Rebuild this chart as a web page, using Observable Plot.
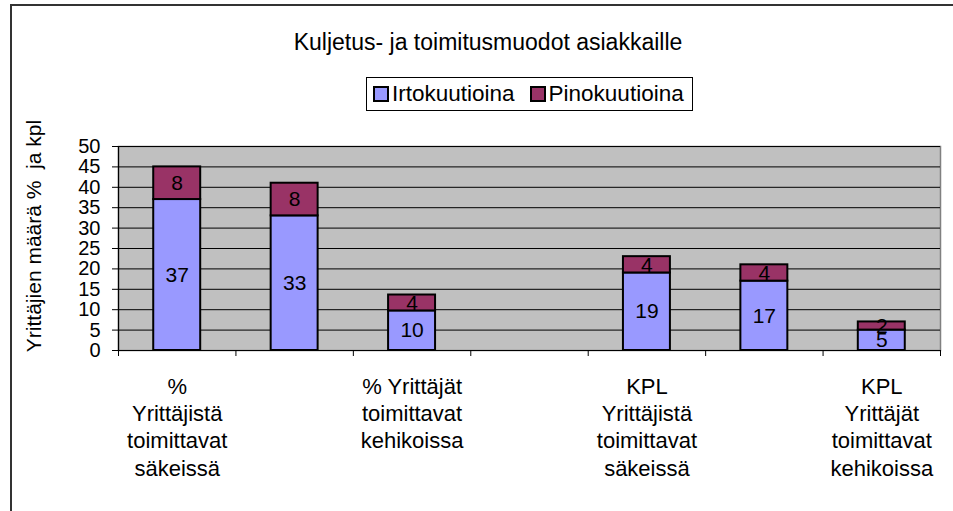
<!DOCTYPE html>
<html>
<head>
<meta charset="utf-8">
<script src="https://cdn.jsdelivr.net/npm/d3@7"></script>
<script src="https://cdn.jsdelivr.net/npm/@observablehq/plot@0.6"></script>
<style>
  html, body { margin: 0; padding: 0; background: #fff; }
  body { width: 953px; height: 511px; position: relative; overflow: hidden; font-family: "Liberation Sans", Arial, sans-serif; color: #000; }
  #frame { position: absolute; left: 10px; top: 4px; width: 980px; height: 540px; border-left: 2px solid #333; border-top: 2px solid #333; }
  #title { position: absolute; left: 0; width: 976px; top: 31px; text-align: center; font-size: 23px; line-height: 23px; }
  #legend { position: absolute; left: 366px; top: 77px; width: 327px; height: 34px; border: 1px solid #000; display: flex; align-items: center; justify-content: flex-start; padding-left: 6px; box-sizing: border-box; font-size: 22.5px; }
  #legend .sw { display: inline-block; width: 12px; height: 12px; border: 2px solid #000; margin-right: 3px; }
  #legend .item { display: flex; align-items: center; }
  #legend .item + .item { margin-left: 15px; }
  #ytitle { position: absolute; left: 34px; top: 236px; width: 320px; height: 24px; margin-left: -160px; margin-top: -12px; text-align: center; font-size: 21px; line-height: 24px; transform: rotate(-90deg); white-space: pre; }
  #chart { position: absolute; left: 0; top: 120px; }
</style>
</head>
<body>
<div id="frame"></div>
<div id="title"></div>
<div id="legend"></div>
<div id="ytitle"></div>
<div id="chart"></div>
<script>
// ---- data ----
const categories = ["c1", "c2", "c3", "c4", "c5", "c6", "c7"];
const categoryLabels = [
  "%\nYrittäjistä\ntoimittavat\nsäkeissä",
  "",
  "% Yrittäjät\ntoimittavat\nkehikoissa",
  "",
  "KPL\nYrittäjistä\ntoimittavat\nsäkeissä",
  "",
  "KPL\nYrittäjät\ntoimittavat\nkehikoissa"
];
const seriesNames = ["Irtokuutioina", "Pinokuutioina"];
const irtokuutioina = [37, 33, 9.7, null, 19, 17, 5];
const pinokuutioina = [8, 8, 3.9, null, 4, 4, 2];
const yTicks = [0, 5, 10, 15, 20, 25, 30, 35, 40, 45, 50];
const titleText = "Kuljetus- ja toimitusmuodot asiakkaille";
const yTitleText = "Yrittäjien määrä %  ja kpl";

// ---- styles ----
const seriesColors = ["#9999FF", "#993366"];

// ---- build table ----
const rows = [];
categories.forEach((c, i) => {
  const a = irtokuutioina[i], b = pinokuutioina[i];
  if (a == null || b == null) return;
  rows.push({cat: c, i, series: seriesNames[0], value: a, y1: 0, y2: a});
  rows.push({cat: c, i, series: seriesNames[1], value: b, y1: a, y2: a + b});
});
const labelRows = categories.map((c, i) => ({i, label: categoryLabels[i]})).filter(d => d.label);

document.getElementById("title").textContent = titleText;
document.getElementById("ytitle").textContent = yTitleText;
const legend = document.getElementById("legend");
seriesNames.forEach((s, k) => {
  const item = document.createElement("span");
  item.className = "item";
  const sw = document.createElement("span");
  sw.className = "sw";
  sw.style.background = seriesColors[k];
  item.appendChild(sw);
  item.appendChild(document.createTextNode(s));
  legend.appendChild(item);
});

const chart = Plot.plot({
  width: 953,
  height: 391,
  marginLeft: 118,
  marginRight: 13,
  marginTop: 26,
  marginBottom: 161,
  x: {type: "linear", domain: [0, categories.length], axis: null},
  y: {domain: [0, 50], axis: null},
  color: {domain: seriesNames, range: seriesColors},
  style: {fontFamily: "'Liberation Sans', Arial, sans-serif", fontSize: "19px", color: "#000", background: "transparent", overflow: "visible"},
  marks: [
    Plot.frame({fill: "#C0C0C0", stroke: "#808080", strokeWidth: 1.5}),
    Plot.ruleY(yTicks, {stroke: "#000", strokeWidth: 1}),
    Plot.ruleX([0], {stroke: "#000", strokeWidth: 1.2}),
    Plot.rect(rows, {
      x1: d => d.i + 0.3,
      x2: d => d.i + 0.7,
      y1: "y1",
      y2: "y2",
      fill: "series",
      stroke: "#000",
      strokeWidth: 2
    }),
    Plot.text(rows, {
      x: d => d.i + 0.5,
      y: d => (d.y1 + d.y2) / 2,
      text: d => String(Math.round(d.value)),
      fontSize: 21,
      fill: "#000"
    }),
    Plot.axisY({ticks: yTicks, tickSize: 6, tickPadding: 12, fontSize: 20, stroke: "#000", strokeOpacity: 1}),
    Plot.axisX({ticks: d3.range(0, categories.length + 1), tickSize: 6, tickFormat: () => "", stroke: "#000", strokeOpacity: 1}),
    Plot.text(labelRows, {
      x: d => d.i + 0.5,
      frameAnchor: "bottom",
      text: "label",
      lineAnchor: "top",
      lineHeight: 1.24,
      dy: 24,
      fontSize: 22,
      fill: "#000"
    })
  ]
});
document.getElementById("chart").appendChild(chart);
</script>
</body>
</html>
